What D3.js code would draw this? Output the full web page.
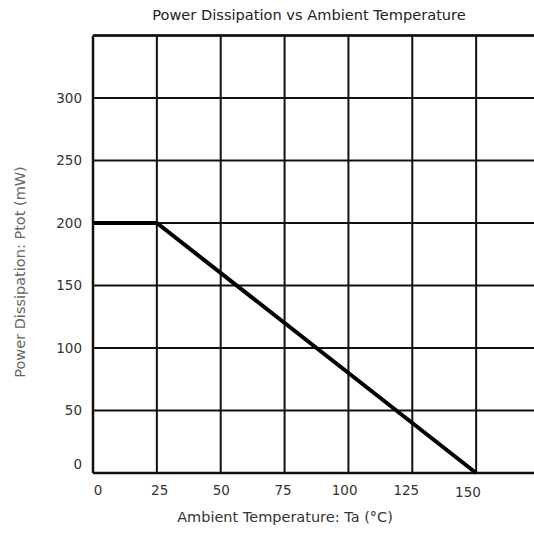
<!DOCTYPE html>
<html>
<head>
<meta charset="utf-8">
<script src="https://cdn.jsdelivr.net/npm/d3@7"></script>
<style>
html,body{margin:0;padding:0;background:#fff;overflow:hidden;}
svg{display:block;}
text{font-family:"DejaVu Sans",Verdana,sans-serif;}
</style>
</head>
<body>
<svg id="chart" width="534" height="534"></svg>
<script>
const temperature = [0, 25, 150];
const power = [200, 200, 0];
const xTicks = [0, 25, 50, 75, 100, 125, 150];
const yTicks = [0, 50, 100, 150, 200, 250, 300];
const xGrid = [25, 50, 75, 100, 125, 150, 175];
const yGrid = [50, 100, 150, 200, 250, 300, 350];
const titleText = "Power Dissipation vs Ambient Temperature";
const xTitle = "Ambient Temperature: Ta (\u00B0C)";
const yTitle = "Power Dissipation: Ptot (mW)";

const svg = d3.select("#chart");
const x = d3.scaleLinear().domain([0, 175]).range([93, 540]);
const y = d3.scaleLinear().domain([0, 350]).range([473, 35.5]);
// tick labels in the original drift slightly left of their grid lines
const xLabel = d3.scaleLinear().domain([0, 150]).range([98, 468]);

// grid
svg.append("g").selectAll("line").data(xGrid).join("line")
  .attr("x1", d => x(d)).attr("x2", d => x(d))
  .attr("y1", y(0)).attr("y2", y(350))
  .attr("stroke", "#111").attr("stroke-width", 2);
svg.append("g").selectAll("line").data(yGrid).join("line")
  .attr("x1", x(0)).attr("x2", x(175))
  .attr("y1", d => y(d)).attr("y2", d => y(d))
  .attr("stroke", "#111").attr("stroke-width", 2);

// border
svg.append("line").attr("x1", x(0)).attr("x2", x(0)).attr("y1", y(0)).attr("y2", y(350))
  .attr("stroke", "#111").attr("stroke-width", 2.5);
svg.append("line").attr("x1", x(0)).attr("x2", x(175)).attr("y1", y(0)).attr("y2", y(0))
  .attr("stroke", "#111").attr("stroke-width", 2.5);
svg.append("line").attr("x1", x(0)).attr("x2", x(175)).attr("y1", y(350)).attr("y2", y(350))
  .attr("stroke", "#111").attr("stroke-width", 2.5);

// data line
const pts = temperature.map((t, i) => [t, power[i]]);
svg.append("path").datum(pts)
  .attr("d", d3.line().x(d => x(d[0])).y(d => y(d[1])))
  .attr("fill", "none").attr("stroke", "#000").attr("stroke-width", 4)
  .attr("stroke-linejoin", "miter");

// tick labels
svg.append("g").selectAll("text").data(xTicks).join("text")
  .attr("x", d => xLabel(d)).attr("y", d => d === 150 ? 497 : 495)
  .attr("text-anchor", "middle").attr("font-size", 13.5).attr("fill", "#333")
  .text(d => d);
svg.append("g").selectAll("text").data(yTicks).join("text")
  .attr("x", 82).attr("y", d => d === 0 ? y(d) - 9 : y(d))
  .attr("dy", "0.35em")
  .attr("text-anchor", "end").attr("font-size", 13.5).attr("fill", "#333")
  .text(d => d);

// titles
svg.append("text").attr("x", 309).attr("y", 20).attr("text-anchor", "middle")
  .attr("font-size", 14.6).attr("fill", "#222").text(titleText);
svg.append("text").attr("x", 285).attr("y", 522).attr("text-anchor", "middle")
  .attr("font-size", 14.5).attr("fill", "#333").text(xTitle);
svg.append("text").attr("transform", "translate(25,272) rotate(-90)")
  .attr("text-anchor", "middle").attr("font-size", 14.5).attr("fill", "#666").text(yTitle);
</script>
</body>
</html>
